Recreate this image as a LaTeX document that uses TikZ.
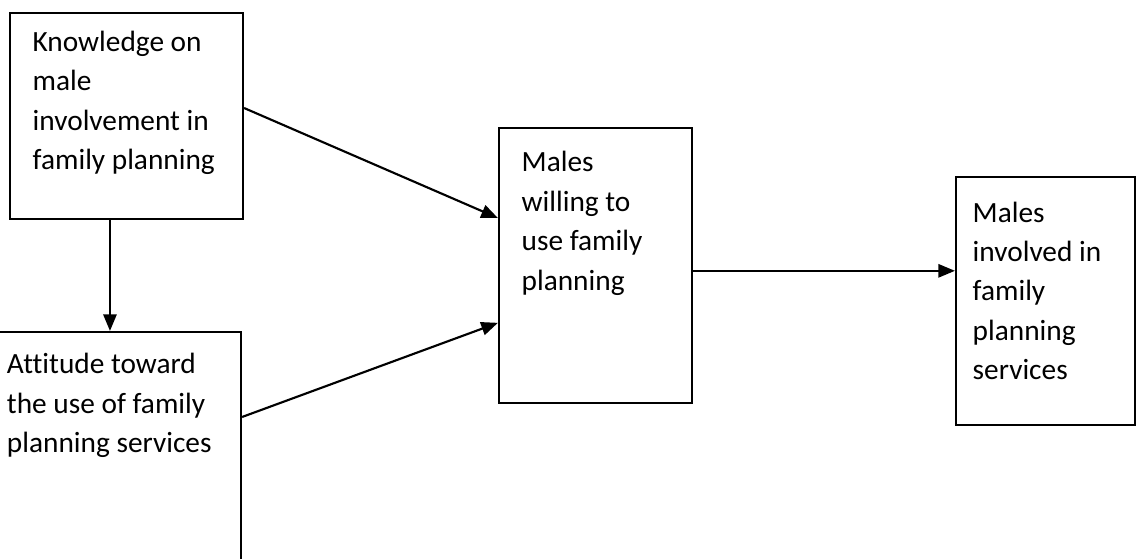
\documentclass[tikz,border=0pt]{standalone}
\usepackage{fontspec}
\setmainfont{Carlito}[Ligatures=NoCommon]
\usetikzlibrary{arrows.meta,positioning}

\begin{document}
\begin{tikzpicture}[x=0.75pt, y=-0.75pt, line width=1.6pt,
	box/.style={draw, rectangle, inner sep=0pt},
	boxtext/.style={anchor=north west, inner sep=0pt, align=left, font=\fontsize{22}{29.6}\selectfont},
	arr/.style={-{Triangle[length=12.5pt,width=10pt]}}]
	\useasboundingbox (0,0) rectangle (1137,559);
	\node[box, minimum width=174.75pt, minimum height=154.5pt] (know) at (126.5,116) {};
	\node[box, minimum width=183pt, minimum height=178.5pt] (att) at (119,451) {};
	\node[box, minimum width=144.75pt, minimum height=206.25pt] (will) at (595.5,265.5) {};
	\node[box, minimum width=134.25pt, minimum height=186pt] (inv) at (1045.5,301) {};
	\node[boxtext, below right=13.5pt and 17pt of know.north west, anchor=north west] {Knowledge on\\male\\involvement in\\family planning};
	\node[boxtext, below right=16pt and 7.5pt of att.north west, anchor=north west] {Attitude toward\\the use of family\\planning services};
	\node[boxtext, below right=17.5pt and 17pt of will.north west, anchor=north west] {Males\\willing to\\use family\\planning};
	\node[boxtext, below right=18.5pt and 12.5pt of inv.north west, anchor=north west] {Males\\involved in\\family\\planning\\services};
	% arrows
	\draw[arr] ([yshift=6pt]know.east) -- ([yshift=35.6pt]will.west);
	\draw[arr] ([yshift=25.5pt]att.east) -- ([yshift=-43pt]will.west);
	\draw[arr] ([xshift=-12.4pt]know.south) -- ([xshift=-12.4pt]know.south |- att.north);
	\draw[arr] ([yshift=-4pt]will.east) -- ([yshift=-4pt]will.east -| inv.west);
\end{tikzpicture}
\end{document}
